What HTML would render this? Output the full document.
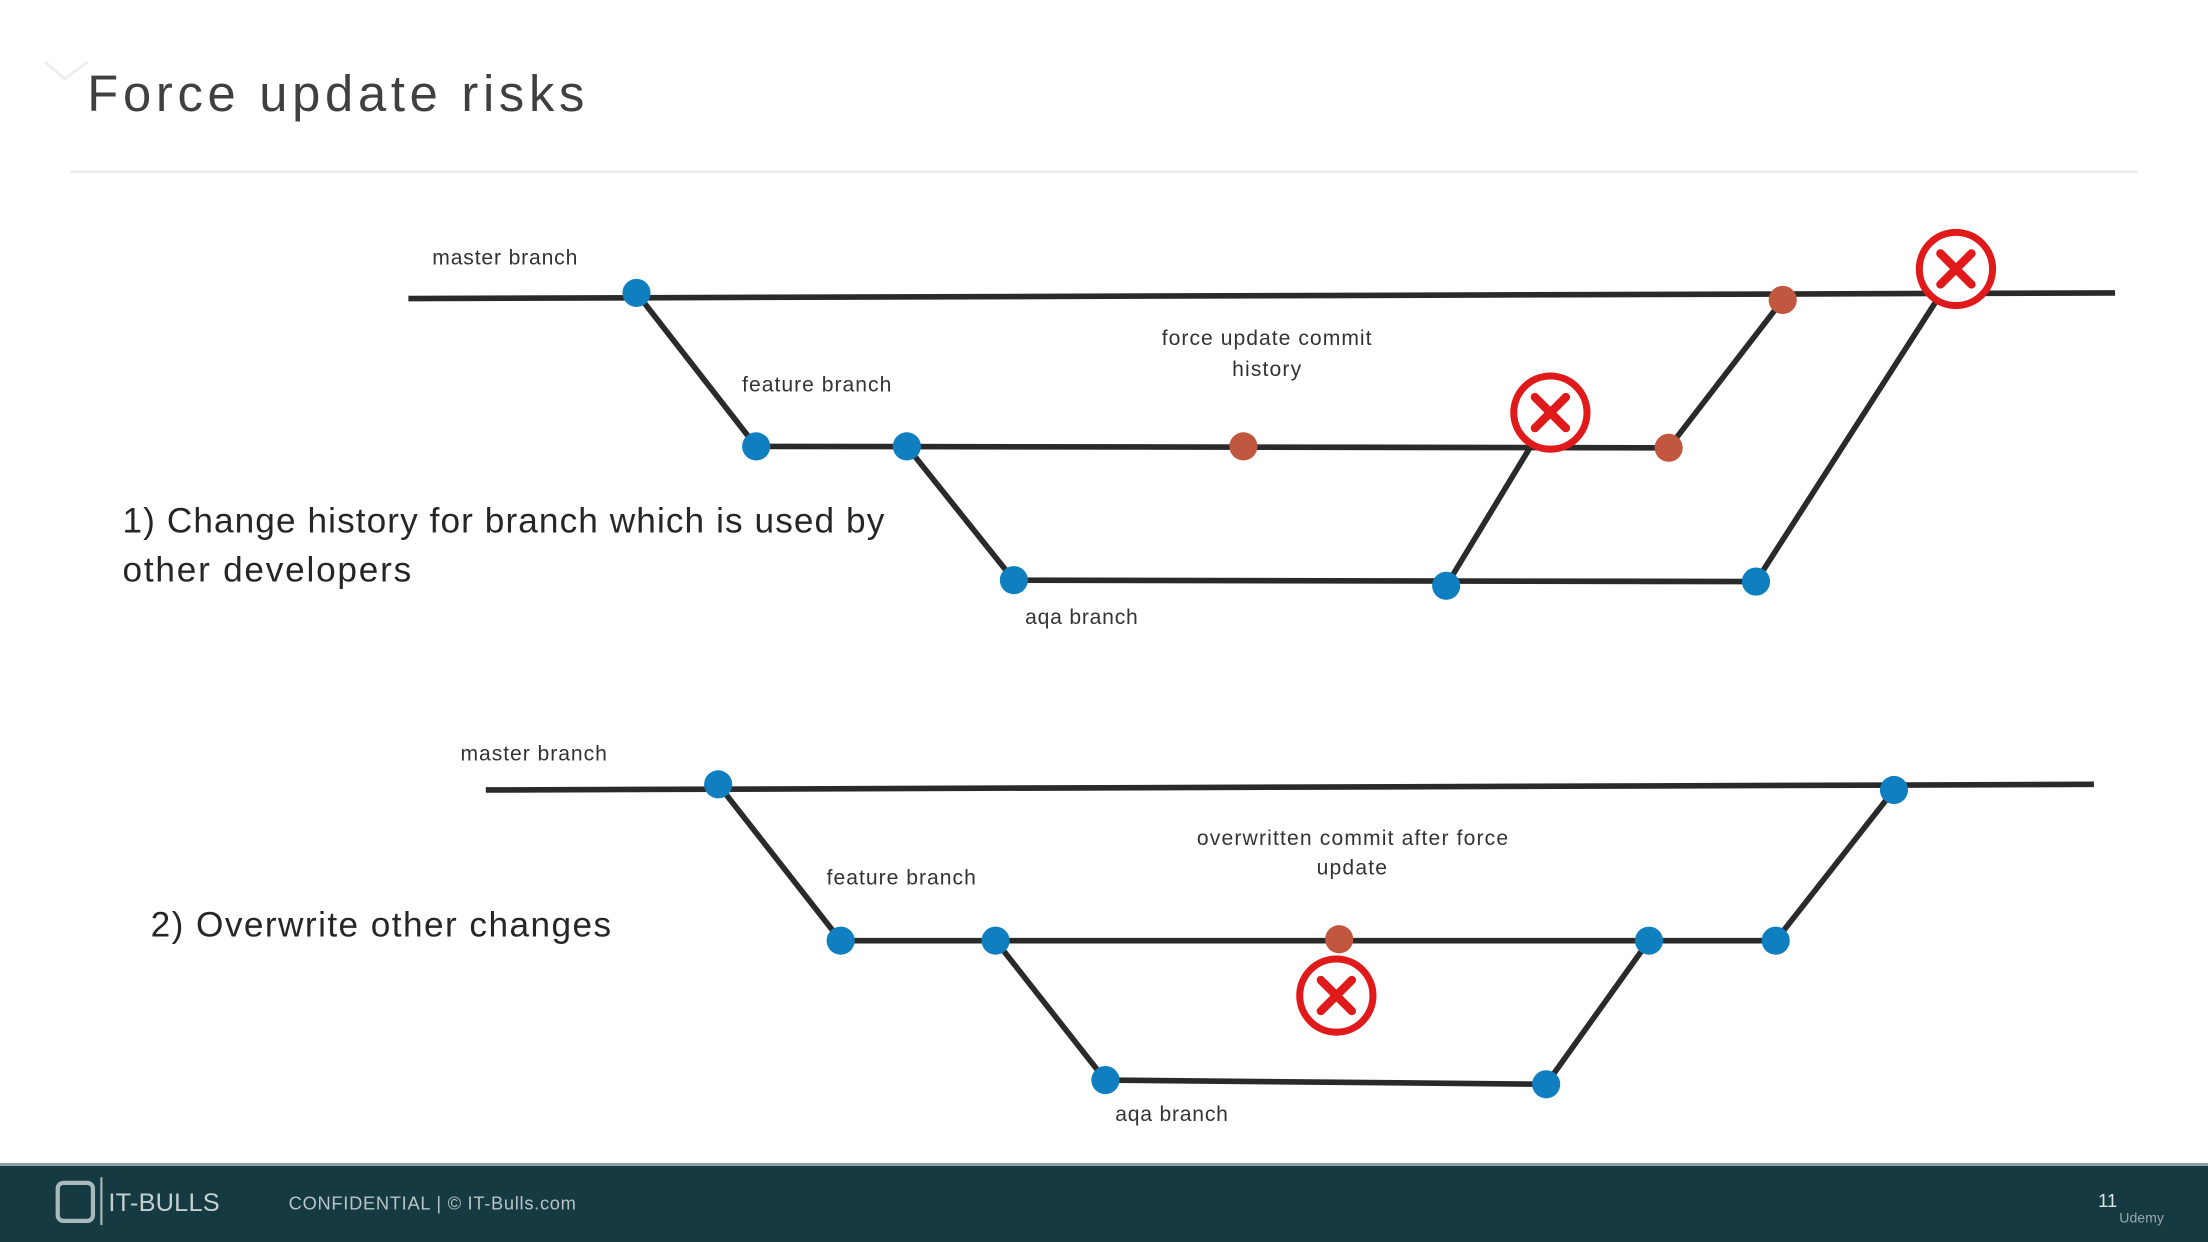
<!DOCTYPE html>
<html><head><meta charset="utf-8"><style>
html,body{margin:0;padding:0;background:#fff;}
svg{display:block;}
</style></head><body>
<svg width="2208" height="1242" viewBox="0 0 1568 882" xmlns="http://www.w3.org/2000/svg" font-family="Liberation Sans, sans-serif">
<rect width="1568" height="882" fill="#fff"/>
<path d="M32 44 L46 56 L62 44" fill="none" stroke="#eee" stroke-width="2"/>
<text x="62" y="79" font-size="36" fill="#404040" textLength="353" lengthAdjust="spacing">Force update risks</text>
<line x1="50" y1="122" x2="1518" y2="122" stroke="#eee" stroke-width="2"/>
<g stroke="#2a2a2a" stroke-width="4" fill="none">
<line x1="290" y1="212" x2="1502" y2="208"/>
<polyline points="452,208 537,317 1185,318 1266,213"/>
<polyline points="644,317 720,412 1247,413 1389,192"/>
<line x1="1027" y1="416" x2="1101" y2="294"/>
<line x1="345" y1="561" x2="1487" y2="557"/>
<polyline points="510,557 597,668 1261,668 1345,561"/>
<polyline points="707,668 785,767 1098,770 1171,668"/>
</g>
<g fill="#0f7fc0">
<circle cx="452" cy="208" r="10"/><circle cx="537" cy="317" r="10"/><circle cx="644" cy="317" r="10"/>
<circle cx="720" cy="412" r="10"/><circle cx="1027" cy="416" r="10"/><circle cx="1247" cy="413" r="10"/>
<circle cx="510" cy="557" r="10"/><circle cx="597" cy="668" r="10"/><circle cx="707" cy="668" r="10"/>
<circle cx="785" cy="767" r="10"/><circle cx="1098" cy="770" r="10"/><circle cx="1171" cy="668" r="10"/>
<circle cx="1261" cy="668" r="10"/><circle cx="1345" cy="561" r="10"/>
</g>
<g fill="#c0573e">
<circle cx="883" cy="317" r="10"/><circle cx="1185" cy="318" r="10"/><circle cx="1266" cy="213" r="10"/><circle cx="951" cy="667" r="10"/>
</g>
<g fill="#fff" stroke="#e01a1a" stroke-width="5">
<circle cx="1389" cy="191" r="26"/><circle cx="1101" cy="293" r="26"/><circle cx="949" cy="707" r="26"/>
</g>
<g stroke="#e01a1a" stroke-width="6" stroke-linecap="round">
<path d="M1378 180 L1400 202 M1400 180 L1378 202"/>
<path d="M1090 282 L1112 304 M1112 282 L1090 304"/>
<path d="M938 696 L960 718 M960 696 L938 718"/>
</g>
<g font-size="15" fill="#333">
<text x="307" y="188" textLength="103">master branch</text>
<text x="527" y="278" textLength="106">feature branch</text>
<text x="825" y="245" textLength="149">force update commit</text>
<text x="875" y="267" textLength="49">history</text>
<text x="728" y="443" textLength="80">aqa branch</text>
<text x="327" y="540" textLength="104">master branch</text>
<text x="587" y="628" textLength="106">feature branch</text>
<text x="850" y="600" textLength="221">overwritten commit after force</text>
<text x="935" y="621" textLength="50">update</text>
<text x="792" y="796" textLength="80">aqa branch</text>
</g>
<g font-size="25" fill="#262626">
<text x="87" y="378" textLength="541">1) Change history for branch which is used by</text>
<text x="87" y="413" textLength="205">other developers</text>
<text x="107" y="665" textLength="327">2) Overwrite other changes</text>
</g>
<rect x="0" y="826" width="1568" height="56" fill="#163a42"/>
<rect x="0" y="826" width="1568" height="2" fill="#8fa5a8"/>
<rect x="41" y="840" width="25" height="27" rx="4" fill="none" stroke="#aab9bb" stroke-width="3"/>
<line x1="72" y1="836" x2="72" y2="870" stroke="#aab9bb" stroke-width="1.5"/>
<text x="77" y="860" font-size="18" fill="#c4d0d2" textLength="79">IT-BULLS</text>
<text x="205" y="859" font-size="13" fill="#b8c4c6" textLength="204">CONFIDENTIAL  |  © IT-Bulls.com</text>
<text x="1490" y="857" font-size="13" fill="#dfe6e7">11</text>
<text x="1505" y="868" font-size="10" fill="#9aabad">Udemy</text>
</svg>
</body></html>
